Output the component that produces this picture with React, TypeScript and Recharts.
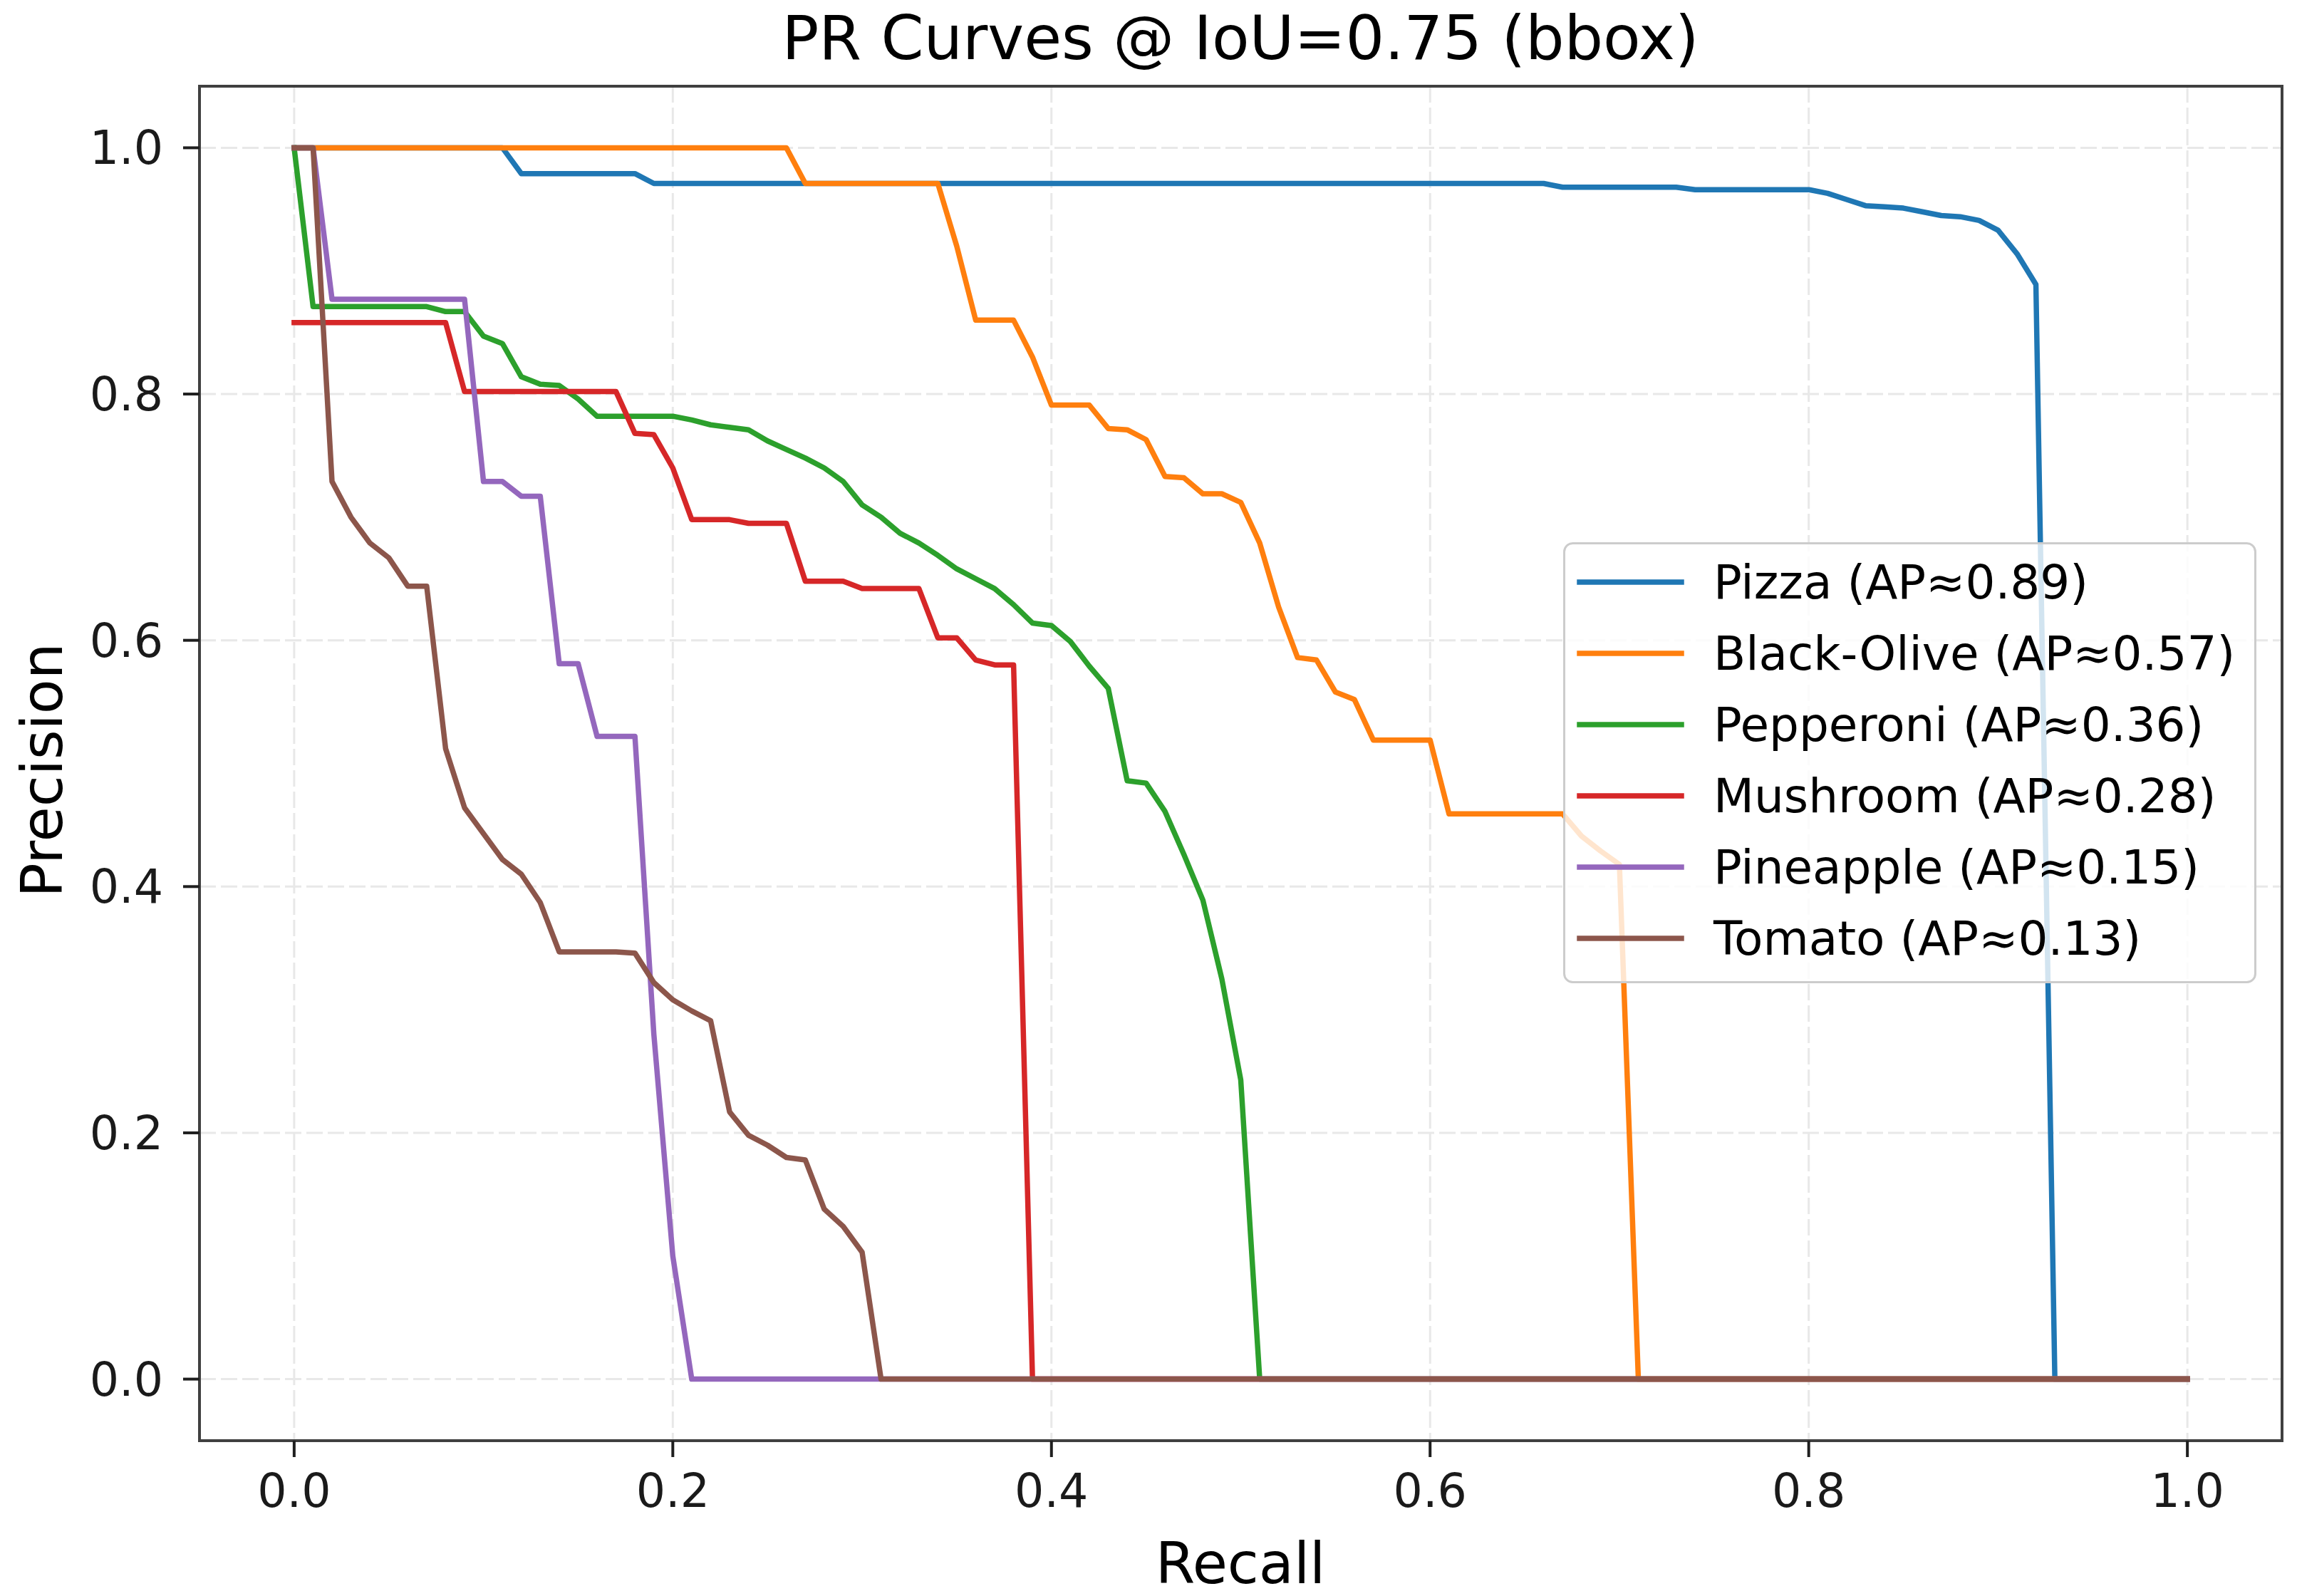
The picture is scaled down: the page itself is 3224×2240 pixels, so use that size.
import React from 'react';
import { LineChart, Line, XAxis, YAxis, CartesianGrid, ReferenceArea, Legend } from 'recharts';

// Recall grid (COCO 101-point)
const recall = [
  0, 0.01, 0.02, 0.03, 0.04, 0.05, 0.06, 0.07, 0.08, 0.09,
  0.1, 0.11, 0.12, 0.13, 0.14, 0.15, 0.16, 0.17, 0.18, 0.19,
  0.2, 0.21, 0.22, 0.23, 0.24, 0.25, 0.26, 0.27, 0.28, 0.29,
  0.3, 0.31, 0.32, 0.33, 0.34, 0.35, 0.36, 0.37, 0.38, 0.39,
  0.4, 0.41, 0.42, 0.43, 0.44, 0.45, 0.46, 0.47, 0.48, 0.49,
  0.5, 0.51, 0.52, 0.53, 0.54, 0.55, 0.56, 0.57, 0.58, 0.59,
  0.6, 0.61, 0.62, 0.63, 0.64, 0.65, 0.66, 0.67, 0.68, 0.69,
  0.7, 0.71, 0.72, 0.73, 0.74, 0.75, 0.76, 0.77, 0.78, 0.79,
  0.8, 0.81, 0.82, 0.83, 0.84, 0.85, 0.86, 0.87, 0.88, 0.89,
  0.9, 0.91, 0.92, 0.93, 0.94, 0.95, 0.96, 0.97, 0.98, 0.99,
  1.0,
];

const pizza = [
  1, 1, 1, 1, 1, 1, 1, 1, 1, 1,
  1, 1, 0.979, 0.979, 0.979, 0.979, 0.979, 0.979, 0.979, 0.971,
  0.971, 0.971, 0.971, 0.971, 0.971, 0.971, 0.971, 0.971, 0.971, 0.971,
  0.971, 0.971, 0.971, 0.971, 0.971, 0.971, 0.971, 0.971, 0.971, 0.971,
  0.971, 0.971, 0.971, 0.971, 0.971, 0.971, 0.971, 0.971, 0.971, 0.971,
  0.971, 0.971, 0.971, 0.971, 0.971, 0.971, 0.971, 0.971, 0.971, 0.971,
  0.971, 0.971, 0.971, 0.971, 0.971, 0.971, 0.971, 0.968, 0.968, 0.968,
  0.968, 0.968, 0.968, 0.968, 0.966, 0.966, 0.966, 0.966, 0.966, 0.966,
  0.966, 0.963, 0.958, 0.953, 0.952, 0.951, 0.948, 0.945, 0.944, 0.941,
  0.933, 0.914, 0.889, 0, 0, 0, 0, 0, 0, 0,
  0,
];

const blackOlive = [
  1, 1, 1, 1, 1, 1, 1, 1, 1, 1,
  1, 1, 1, 1, 1, 1, 1, 1, 1, 1,
  1, 1, 1, 1, 1, 1, 1, 0.971, 0.971, 0.971,
  0.971, 0.971, 0.971, 0.971, 0.971, 0.92, 0.86, 0.86, 0.86, 0.83,
  0.791, 0.791, 0.791, 0.772, 0.771, 0.763, 0.733, 0.732, 0.719, 0.719,
  0.712, 0.679, 0.627, 0.586, 0.584, 0.558, 0.552, 0.519, 0.519, 0.519,
  0.519, 0.459, 0.459, 0.459, 0.459, 0.459, 0.459, 0.459, 0.441, 0.429,
  0.418, 0, 0, 0, 0, 0, 0, 0, 0, 0,
  0, 0, 0, 0, 0, 0, 0, 0, 0, 0,
  0, 0, 0, 0, 0, 0, 0, 0, 0, 0,
  0,
];

const pepperoni = [
  1, 0.871, 0.871, 0.871, 0.871, 0.871, 0.871, 0.871, 0.867, 0.867,
  0.847, 0.841, 0.814, 0.808, 0.807, 0.796, 0.782, 0.782, 0.782, 0.782,
  0.782, 0.779, 0.775, 0.773, 0.771, 0.762, 0.755, 0.748, 0.74, 0.729,
  0.71, 0.7, 0.687, 0.679, 0.669, 0.658, 0.65, 0.642, 0.629, 0.614,
  0.612, 0.599, 0.579, 0.561, 0.486, 0.484, 0.461, 0.426, 0.389, 0.325,
  0.243, 0, 0, 0, 0, 0, 0, 0, 0, 0,
  0, 0, 0, 0, 0, 0, 0, 0, 0, 0,
  0, 0, 0, 0, 0, 0, 0, 0, 0, 0,
  0, 0, 0, 0, 0, 0, 0, 0, 0, 0,
  0, 0, 0, 0, 0, 0, 0, 0, 0, 0,
  0,
];

const mushroom = [
  0.858, 0.858, 0.858, 0.858, 0.858, 0.858, 0.858, 0.858, 0.858, 0.802,
  0.802, 0.802, 0.802, 0.802, 0.802, 0.802, 0.802, 0.802, 0.768, 0.767,
  0.74, 0.698, 0.698, 0.698, 0.695, 0.695, 0.695, 0.648, 0.648, 0.648,
  0.642, 0.642, 0.642, 0.642, 0.602, 0.602, 0.584, 0.58, 0.58, 0,
  0, 0, 0, 0, 0, 0, 0, 0, 0, 0,
  0, 0, 0, 0, 0, 0, 0, 0, 0, 0,
  0, 0, 0, 0, 0, 0, 0, 0, 0, 0,
  0, 0, 0, 0, 0, 0, 0, 0, 0, 0,
  0, 0, 0, 0, 0, 0, 0, 0, 0, 0,
  0, 0, 0, 0, 0, 0, 0, 0, 0, 0,
  0,
];

const pineapple = [
  1, 1, 0.877, 0.877, 0.877, 0.877, 0.877, 0.877, 0.877, 0.877,
  0.729, 0.729, 0.717, 0.717, 0.581, 0.581, 0.522, 0.522, 0.522, 0.28,
  0.1, 0, 0, 0, 0, 0, 0, 0, 0, 0,
  0, 0, 0, 0, 0, 0, 0, 0, 0, 0,
  0, 0, 0, 0, 0, 0, 0, 0, 0, 0,
  0, 0, 0, 0, 0, 0, 0, 0, 0, 0,
  0, 0, 0, 0, 0, 0, 0, 0, 0, 0,
  0, 0, 0, 0, 0, 0, 0, 0, 0, 0,
  0, 0, 0, 0, 0, 0, 0, 0, 0, 0,
  0, 0, 0, 0, 0, 0, 0, 0, 0, 0,
  0,
];

const tomato = [
  1, 1, 0.729, 0.7, 0.679, 0.667, 0.644, 0.644, 0.512, 0.464,
  0.443, 0.422, 0.41, 0.387, 0.347, 0.347, 0.347, 0.347, 0.346, 0.322,
  0.308, 0.299, 0.291, 0.217, 0.198, 0.19, 0.18, 0.178, 0.138, 0.124,
  0.103, 0, 0, 0, 0, 0, 0, 0, 0, 0,
  0, 0, 0, 0, 0, 0, 0, 0, 0, 0,
  0, 0, 0, 0, 0, 0, 0, 0, 0, 0,
  0, 0, 0, 0, 0, 0, 0, 0, 0, 0,
  0, 0, 0, 0, 0, 0, 0, 0, 0, 0,
  0, 0, 0, 0, 0, 0, 0, 0, 0, 0,
  0, 0, 0, 0, 0, 0, 0, 0, 0, 0,
  0,
];

const seriesKeys = ['pizza', 'blackOlive', 'pepperoni', 'mushroom', 'pineapple', 'tomato'];
const seriesNames = [
  'Pizza (AP≈0.89)',
  'Black-Olive (AP≈0.57)',
  'Pepperoni (AP≈0.36)',
  'Mushroom (AP≈0.28)',
  'Pineapple (AP≈0.15)',
  'Tomato (AP≈0.13)',
];
const seriesColors = ['#1f77b4', '#ff7f0e', '#2ca02c', '#d62728', '#9467bd', '#8c564b'];

const xTicks = [0, 0.2, 0.4, 0.6, 0.8, 1.0];
const yTicks = [0, 0.2, 0.4, 0.6, 0.8, 1.0];

const titleText = 'PR Curves @ IoU=0.75 (bbox)';
const xLabel = 'Recall';
const yLabel = 'Precision';

const seriesValues = [pizza, blackOlive, pepperoni, mushroom, pineapple, tomato];
const rows = recall.map((r, i) => {
  const row: Record<string, number> = { recall: r };
  seriesKeys.forEach((k, s) => {
    row[k] = seriesValues[s][i];
  });
  return row;
});

const FONT = 'DejaVu Sans';
const W = 3224;
const H = 2240;
const LINE_W = 7.5;

const LegendBox = () => (
  <svg width={973} height={619} style={{ display: 'block', overflow: 'visible' }}>
    <rect x={1.5} y={1.5} width={970} height={616} rx={12} ry={12}
      fill="#ffffff" fillOpacity={0.8} stroke="#cccccc" strokeWidth={3} />
    {seriesNames.map((name, i) => (
      <g key={name}>
        <line x1={23} x2={166} y1={56 + 100 * i} y2={56 + 100 * i}
          stroke={seriesColors[i]} strokeWidth={LINE_W} strokeLinecap="square" />
        <text x={211} y={79 + 100 * i} fontSize={66} fontFamily={FONT} fill="#000000">{name}</text>
      </g>
    ))}
  </svg>
);

export default function App() {
  return (
    <div style={{ position: 'absolute', left: 0, top: 0, width: W, height: H, background: '#ffffff', fontFamily: FONT }}>
      <LineChart width={W} height={H} data={rows} margin={{ top: 121, right: 21, bottom: 0, left: 0 }}>
        <CartesianGrid stroke="#e8e8e8" strokeWidth={3} strokeDasharray="23 7" />
        <XAxis
          type="number"
          dataKey="recall"
          domain={[-0.05, 1.05]}
          ticks={xTicks}
          interval={0}
          allowDataOverflow
          height={218}
          axisLine={false}
          tickLine={{ stroke: '#1f1f1f', strokeWidth: 4 }}
          tickSize={23}
          tickMargin={24}
          tickFormatter={(v: number) => v.toFixed(1)}
          tick={{ fontSize: 65, fill: '#1a1a1a', fontFamily: FONT }}
        />
        <YAxis
          type="number"
          domain={[-0.05, 1.05]}
          ticks={yTicks}
          interval={0}
          allowDataOverflow
          width={280}
          axisLine={false}
          tickLine={{ stroke: '#1f1f1f', strokeWidth: 4 }}
          tickSize={23}
          tickMargin={28}
          tickFormatter={(v: number) => v.toFixed(1)}
          tick={{ fontSize: 65, fill: '#1a1a1a', fontFamily: FONT }}
        />
        {seriesKeys.map((k, i) => (
          <Line
            key={k}
            type="linear"
            dataKey={k}
            name={seriesNames[i]}
            stroke={seriesColors[i]}
            strokeWidth={LINE_W}
            strokeLinejoin="round"
            strokeLinecap="square"
            dot={false}
            activeDot={false}
            isAnimationActive={false}
          />
        ))}
        <ReferenceArea
          x1={-0.05}
          x2={1.05}
          y1={-0.05}
          y2={1.05}
          fill="none"
          fillOpacity={0}
          stroke="#404040"
          strokeWidth={4}
          ifOverflow="visible"
        />
        <Legend
          layout="horizontal"
          verticalAlign="middle"
          align="center"
          wrapperStyle={{ position: 'absolute', left: 2194, top: 761, width: 973, height: 619 }}
          content={() => <LegendBox />}
        />
      </LineChart>
      <svg width={W} height={H} style={{ position: 'absolute', left: 0, top: 0, pointerEvents: 'none' }}>
        <text x={1741} y={83} textAnchor="middle" fontSize={86} fontFamily={FONT} fill="#000000">{titleText}</text>
        <text x={1741} y={2222} textAnchor="middle" fontSize={80} fontFamily={FONT} fill="#000000">{xLabel}</text>
        <text x={87} y={1081} textAnchor="middle" fontSize={80} fontFamily={FONT} fill="#000000"
          transform="rotate(-90 87 1081)">{yLabel}</text>
      </svg>
    </div>
  );
}
